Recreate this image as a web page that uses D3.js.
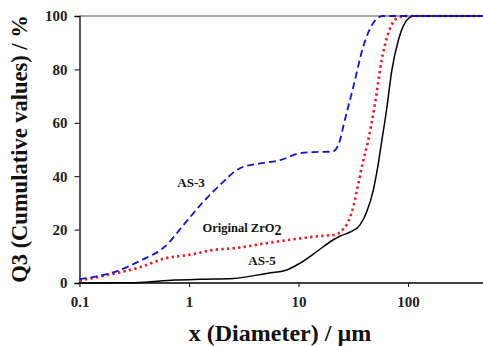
<!DOCTYPE html>
<html>
<head>
<meta charset="utf-8">
<script src="https://cdn.jsdelivr.net/npm/d3@7"></script>
<style>
  body { margin: 0; background: #fff; }
</style>
</head>
<body>
<svg id="chart"></svg>
<script>
var width = 483,
  height = 346;

var serif = '"Liberation Serif", "Times New Roman", serif';

// diameter (um) / cumulative %
var as3X = [0.1, 0.14, 0.21, 0.37, 0.6, 0.92, 1.31, 1.92, 2.92, 4.45, 6.8, 10.3, 13.6, 20.5, 24, 25.6, 31.7, 39, 48, 59, 500];
var as3Y = [1.4, 2.4, 4.2, 8.6, 13.6, 22.4, 29.8, 36.7, 43, 44.8, 46, 48.6, 49, 49.2, 53.6, 58.5, 73.5, 88.5, 97.3, 100, 100];

var origX = [0.1, 0.18, 0.37, 0.6, 0.99, 1.67, 2.54, 5.1, 10.3, 18, 21.5, 24.8, 28.5, 31.7, 35.2, 39.1, 42.3, 50, 57.5, 66, 79, 98, 500];
var origY = [0.9, 3, 6.1, 9.2, 10.5, 12.4, 13, 14.9, 16.7, 17.8, 18, 19.6, 23, 28.6, 37.3, 46, 51.5, 67.3, 83.5, 93.5, 99.1, 100, 100];

var as5X = [0.1, 0.32, 0.74, 1.26, 2.54, 5.1, 7.8, 10.3, 14.6, 20.8, 24, 29.4, 36.3, 42, 48.2, 53.6, 57.5, 63.7, 71.3, 81.8, 93.5, 112, 500];
var as5Y = [0, 0.1, 1.1, 1.4, 1.7, 3.6, 4.9, 7.4, 11.7, 16.2, 17.6, 19, 21.7, 26.7, 34.8, 44.8, 53, 64.8, 79.8, 91, 97.3, 100, 100];

var xTicks = [0.1, 1, 10, 100];
var yTicks = [0, 20, 40, 60, 80, 100];

var svg = d3.select('#chart')
  .attr('width', width)
  .attr('height', height);

var x = d3.scaleLog()
  .domain([0.1, 500])
  .range([79.5, 79.5 + 109.5 * Math.log10(5000)]);

var y = d3.scaleLinear()
  .domain([0, 100])
  .range([283, 16]);

function zip(xs, ys) {
  return xs.map(function(d, i) { return [d, ys[i]]; });
}

var line = d3.line()
  .x(function(d) { return x(d[0]); })
  .y(function(d) { return y(d[1]); })
  .curve(d3.curveMonotoneX);

// top frame line
svg.append('line')
  .attr('x1', x(0.1)).attr('x2', width)
  .attr('y1', y(100)).attr('y2', y(100))
  .attr('stroke', '#888').attr('stroke-width', 1.5);

// axes
var xAxis = svg.append('g')
  .attr('transform', 'translate(0,' + y(0) + ')')
  .call(d3.axisBottom(x).tickValues(xTicks).tickFormat(d3.format('')).tickSize(4).tickPadding(9));

var yAxis = svg.append('g')
  .attr('transform', 'translate(' + x(0.1) + ',0)')
  .call(d3.axisLeft(y).tickValues(yTicks).tickSize(5).tickPadding(7));

[xAxis, yAxis].forEach(function(a) {
  a.attr('font-family', null);
  a.select('.domain').attr('stroke', '#000').attr('stroke-width', 1.3);
  a.selectAll('.tick line').attr('stroke', '#000');
  a.selectAll('.tick text')
    .attr('fill', '#222')
    .style('font-family', serif)
    .style('font-weight', 'bold')
    .style('font-size', '15px');
});
xAxis.select('.domain').attr('d', 'M' + x(0.1) + ',0H' + width);

// curves
svg.append('path')
  .datum(zip(origX, origY))
  .attr('d', line)
  .attr('fill', 'none')
  .attr('stroke', '#e0202a')
  .attr('stroke-width', 2.6)
  .attr('stroke-dasharray', '2.4,3.2');

svg.append('path')
  .datum(zip(as5X, as5Y))
  .attr('d', line)
  .attr('fill', 'none')
  .attr('stroke', '#000')
  .attr('stroke-width', 1.5);

svg.append('path')
  .datum(zip(as3X, as3Y))
  .attr('d', line)
  .attr('fill', 'none')
  .attr('stroke', '#1515c8')
  .attr('stroke-width', 1.8)
  .attr('stroke-dasharray', '7,4');

// labels
function label(tx, ty, size) {
  return svg.append('text')
    .attr('x', tx).attr('y', ty)
    .attr('text-anchor', 'middle')
    .style('font-family', serif)
    .style('font-weight', 'bold')
    .style('font-size', size + 'px')
    .attr('fill', '#111');
}

label(191, 187, 13).text('AS-3');

var orig = label(242, 232, 12.5);
orig.append('tspan').text('Original ZrO');
orig.append('tspan').attr('dy', 3).style('font-size', '14px').text('2');

label(262, 265, 13).text('AS-5');

// axis titles
label(280, 341, 24).text('x (Diameter) / \u00b5m');

label(0, 0, 22.5)
  .attr('transform', 'translate(27,149) rotate(-90)')
  .text('Q3 (Cumulative values) / %');
</script>
</body>
</html>
